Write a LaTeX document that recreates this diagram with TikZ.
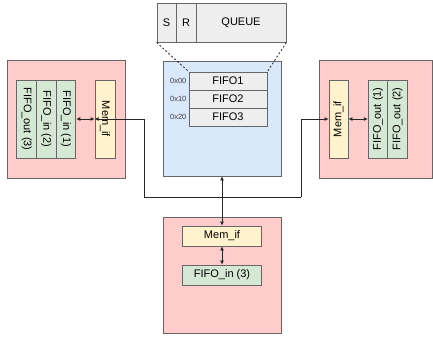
\documentclass[tikz,border=0pt]{standalone}
\usepackage{fontspec}
\setmainfont{Liberation Sans}
\usetikzlibrary{arrows.meta}

\definecolor{edgegray}{HTML}{666666}
\definecolor{wirec}{HTML}{262626}
\definecolor{redfill}{HTML}{FFCCCC}
\definecolor{bluefill}{HTML}{DAE8FC}
\definecolor{greenfill}{HTML}{D5E8D4}
\definecolor{yellowfill}{HTML}{FFF2CC}
\definecolor{grayfill}{HTML}{EEEEEE}

\begin{document}
\begin{tikzpicture}[x=1pt,y=-1pt,
  box/.style={draw=edgegray,line width=0.8pt,inner sep=0pt,font=\fontsize{11}{13}\selectfont},
  blk/.style={box,fill=redfill},
  cell/.style={box,fill=grayfill,minimum width=78pt,minimum height=18pt},
  fifo/.style={box,fill=greenfill},
  memif/.style={box,fill=yellowfill},
  addr/.style={inner sep=0pt,font=\fontsize{7.5}{9}\selectfont,text=black!75},
  wire/.style={draw=wirec,line width=0.9pt},
  arr/.style={wire,-{Latex[length=4pt,width=4pt]}},
  dbl/.style={wire,{Latex[length=4pt,width=4pt]}-{Latex[length=4pt,width=4pt]}}]
  \useasboundingbox (0,0) rectangle (433,338);

  \node[box,fill=grayfill,minimum width=19pt,minimum height=39pt] (s) at (166.5,22.5) {S};
  \node[box,fill=grayfill,minimum width=20pt,minimum height=39pt] (r) at (186,22.5) {R};
  \node[box,fill=grayfill,minimum width=90pt,minimum height=39pt] (queue) at (241,22.5) {QUEUE};

  \node[box,fill=bluefill,minimum width=118pt,minimum height=115pt] (mem) at (222,118.5) {};
  \node[cell] (fifo1) at (228,81) {FIFO1};
  \node[cell] (fifo2) at (228,99) {FIFO2};
  \node[cell] (fifo3) at (228,117) {FIFO3};
  \node[addr,anchor=east] (a0) at ([xshift=-2pt]fifo1.west) {0x00};
  \node[addr,anchor=east] (a1) at ([xshift=-2pt]fifo2.west) {0x10};
  \node[addr,anchor=east] (a2) at ([xshift=-2pt]fifo3.west) {0x20};
  \draw[wire,line width=0.8pt,dash pattern=on 2pt off 2pt] (s.south west) -- (fifo1.north west);
  \draw[wire,line width=0.8pt,dash pattern=on 2pt off 2pt] (queue.south east) -- (fifo1.north east);

  \node[blk,minimum width=118pt,minimum height=118pt] (left) at (66,119) {};
  \node[fifo,minimum width=78pt,minimum height=19.7pt,rotate=-90] (lout3) at (26.7,119) {FIFO\_out (3)};
  \node[fifo,minimum width=78pt,minimum height=19.7pt,rotate=-90] (lin2) at (46.3,119) {FIFO\_in (2)};
  \node[fifo,minimum width=78pt,minimum height=19.7pt,rotate=-90] (lin1) at (66,119) {FIFO\_in (1)};
  \node[memif,minimum width=78pt,minimum height=20pt,rotate=-90] (lmem) at (105,119) {Mem\_if};
  \draw[dbl] (lin1.north) -- (lmem.south);

  \node[blk,minimum width=113pt,minimum height=118pt] (right) at (375.5,119) {};
  \node[memif,minimum width=78pt,minimum height=19pt,rotate=90] (rmem) at (338.5,119) {Mem\_if};
  \node[fifo,minimum width=78pt,minimum height=19.5pt,rotate=90] (rout1) at (378,119) {FIFO\_out (1)};
  \node[fifo,minimum width=78pt,minimum height=19.5pt,rotate=90] (rout2) at (397.5,119) {FIFO\_out (2)};
  \draw[dbl] (rmem.south) -- (rout1.north);

  \node[blk,minimum width=118pt,minimum height=116pt] (bottom) at (222,275) {};
  \node[memif,minimum width=79pt,minimum height=20pt] (bmem) at (222,236) {Mem\_if};
  \node[fifo,minimum width=79pt,minimum height=20pt] (bin3) at (222,275) {FIFO\_in (3)};
  \draw[dbl] (bmem.south) -- (bin3.north);

  \coordinate (jl) at (144,197);
  \coordinate (jr) at (301,197);
  \draw[wire] (jl) -- (jr);
  \draw[arr] (jl) |- (lmem.south);
  \draw[arr] (jr) |- (rmem.north);
  \draw[dbl] (mem.south) -- (bmem.north);
\end{tikzpicture}
\end{document}
